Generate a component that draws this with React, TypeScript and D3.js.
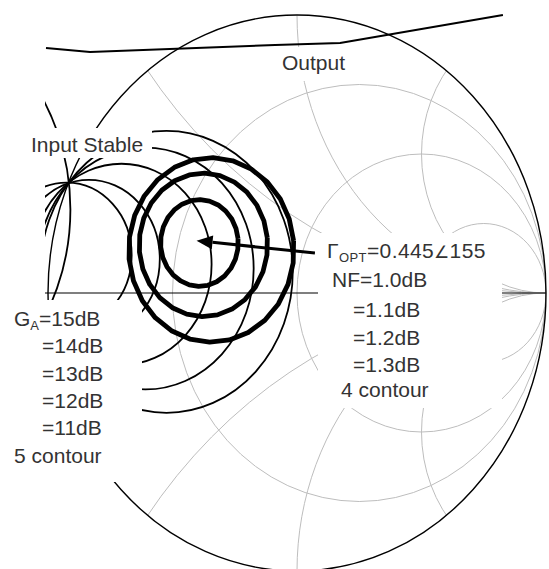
import * as d3 from "d3";

const W = 549;
const H = 569;

// Smith chart frame: Gamma plane -> pixels (the picture is a bit taller than wide)
const CX = 297;
const CY = 293;
const RX = 249;
const RY = 278;

// gray grid
const resistanceValues = [1 / 3, 1, 3];
const reactanceValues = [0.5, 1, 2, -0.5, -1, -2];

// optimum source reflection and noise circles (Gamma plane)
const gammaOptMag = 0.445;
const gammaOptDeg = 155;
const noiseLevels = ["1.1", "1.2", "1.3"];
const noiseCenterU = [-0.392, -0.376, -0.344];
const noiseCenterV = [0.18, 0.173, 0.155];
const noiseRadius = [0.156, 0.258, 0.332];

// available gain circles (all pass the two points where the input stability circle meets |G|=1)
const gainLevels = [15, 14, 13, 12, 11];
const gainCenterU = [-0.925, -0.836, -0.705, -0.609, -0.524];
const gainCenterV = [0.136, 0.122, 0.103, 0.088, 0.076];
const gainRadius = [0.261, 0.285, 0.362, 0.435, 0.507];

// input stability circle
const inStabCenter = [-1.68, 0.3];
const inStabRadius = 0.77;

// output stability boundary (coarse polyline, as plotted)
const outStabU = [-1.008, -0.831, -0.088, 0.173, 0.827];
const outStabV = [0.881, 0.867, 0.892, 0.899, 1.0];

// arrow tail at the label
const arrowTail = [0.072, 0.144];

const x = d3.scaleLinear().domain([-1, 1]).range([CX - RX, CX + RX]);
const y = d3.scaleLinear().domain([-1, 1]).range([CY + RY, CY - RY]);
const sx = (r: number) => x(r) - x(0);
const sy = (r: number) => y(0) - y(r);

const ink = "#000";
const txt = "#333";
const grid = "#bdbdbd";
const font = "'Liberation Sans', Arial, sans-serif";

function polyCircle(u0: number, v0: number, r: number, n: number) {
  const pts = d3.range(n + 1).map((k) => {
    const a = (2 * Math.PI * k) / n + 0.1;
    return [x(u0 + r * Math.cos(a)), y(v0 + r * Math.sin(a))] as [number, number];
  });
  return d3.line()(pts) as string;
}

export default function App() {
  const gOptU = gammaOptMag * Math.cos((gammaOptDeg * Math.PI) / 180);
  const gOptV = gammaOptMag * Math.sin((gammaOptDeg * Math.PI) / 180);

  const outLine = d3
    .line<number>()
    .x((_, i) => x(outStabU[i]))
    .y((_, i) => y(outStabV[i]))(outStabU) as string;

  // arrow
  const tx = x(arrowTail[0]);
  const ty = y(arrowTail[1]);
  const hx = x(gOptU);
  const hy = y(gOptV);
  const ang = Math.atan2(hy - ty, hx - tx);
  const headLen = 16;
  const headW = 7;
  const bx = hx - headLen * Math.cos(ang);
  const by = hy - headLen * Math.sin(ang);
  const head = [
    [hx, hy],
    [bx + headW * Math.sin(ang), by - headW * Math.cos(ang)],
    [bx - headW * Math.sin(ang), by + headW * Math.cos(ang)],
  ];

  const lineH = 27.3;
  const nfStep = 27.5;

  return (
    <div style={{ position: "absolute", left: 0, top: 0 }}>
      <svg width={W} height={H} style={{ display: "block", background: "#fff" }}>
        <defs>
          <clipPath id="plot">
            <rect x={45} y={0} width={W - 45} height={H} />
          </clipPath>
          <clipPath id="unit">
            <ellipse cx={x(0)} cy={y(0)} rx={sx(1)} ry={sy(1)} />
          </clipPath>
        </defs>

        <g clipPath="url(#plot)">
          {/* grid */}
          <g clipPath="url(#unit)" fill="none" stroke={grid} strokeWidth={1}>
            {resistanceValues.map((r) => (
              <ellipse
                key={"r" + r}
                cx={x(r / (1 + r))}
                cy={y(0)}
                rx={sx(1 / (1 + r))}
                ry={sy(1 / (1 + r))}
              />
            ))}
            {reactanceValues.map((xv) => (
              <ellipse
                key={"x" + xv}
                cx={x(1)}
                cy={y(1 / xv)}
                rx={sx(Math.abs(1 / xv))}
                ry={sy(Math.abs(1 / xv))}
              />
            ))}
          </g>

          {/* outer circle and real axis */}
          <ellipse cx={x(0)} cy={y(0)} rx={sx(1)} ry={sy(1)} fill="none" stroke={ink} strokeWidth={1.4} />
          <line x1={x(-1.05)} x2={x(1)} y1={y(0)} y2={y(0)} stroke={ink} strokeWidth={1.2} />

          {/* input stability circle */}
          <ellipse
            cx={x(inStabCenter[0])}
            cy={y(inStabCenter[1])}
            rx={sx(inStabRadius)}
            ry={sy(inStabRadius)}
            fill="none"
            stroke={ink}
            strokeWidth={1.8}
          />

          {/* gain circles */}
          {gainLevels.map((g, i) => (
            <ellipse
              key={"g" + g}
              cx={x(gainCenterU[i])}
              cy={y(gainCenterV[i])}
              rx={sx(gainRadius[i])}
              ry={sy(gainRadius[i])}
              fill="none"
              stroke={ink}
              strokeWidth={1.8}
            />
          ))}

          {/* label masks */}
          <rect x={0} y={128} width={152} height={30} fill="#fff" />
          <rect x={0} y={300} width={142} height={182} fill="#fff" />
          <rect x={318} y={233} width={184} height={175} fill="#fff" />
          <rect x={276} y={47} width={76} height={34} fill="#fff" />

          {/* output stability */}
          <path d={outLine} fill="none" stroke={ink} strokeWidth={2} />

          {/* noise circles */}
          {noiseLevels.map((n, i) => (
            <path
              key={"n" + n}
              d={polyCircle(noiseCenterU[i], noiseCenterV[i], noiseRadius[i], 26)}
              fill="none"
              stroke={ink}
              strokeWidth={4.8}
              strokeLinejoin="round"
            />
          ))}

          {/* arrow to Gamma_opt */}
          <line x1={tx} y1={ty} x2={bx} y2={by} stroke={ink} strokeWidth={3} />
          <polygon points={head.map((p) => p.join(",")).join(" ")} fill={ink} />
        </g>

        {/* labels */}
        <g fill={txt} fontFamily={font} fontSize={21}>
          <text x={282} y={70}>Output</text>
          <text x={31} y={152}>Input Stable</text>

          <text x={327} y={258} letterSpacing={0.4}>
            Γ<tspan fontSize={13} dy={4}>OPT</tspan>
            <tspan dy={-4}>={gammaOptMag}</tspan>
            <tspan fontSize={17}>∠</tspan>
            <tspan>{gammaOptDeg}</tspan>
          </text>
          <text x={332} y={287}>NF=1.0dB</text>
          {noiseLevels.map((n, i) => (
            <text key={"nl" + n} x={353} y={289.5 + nfStep * (i + 1)}>
              ={n}dB
            </text>
          ))}
          <text x={341} y={397}>{noiseLevels.length + 1} contour</text>

          <text x={14} y={326}>
            G<tspan fontSize={13} dy={4}>A</tspan>
            <tspan dy={-4}>={gainLevels[0]}dB</tspan>
          </text>
          {gainLevels.slice(1).map((g, i) => (
            <text key={"gl" + g} x={42} y={326 + lineH * (i + 1)}>
              ={g}dB
            </text>
          ))}
          <text x={14} y={326 + lineH * gainLevels.length}>{gainLevels.length} contour</text>
        </g>
      </svg>
    </div>
  );
}
